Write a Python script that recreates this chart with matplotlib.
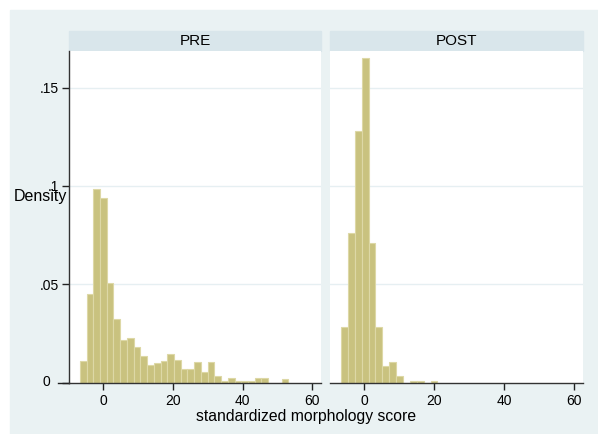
import numpy as np
import matplotlib.pyplot as plt
from matplotlib.patches import Rectangle

plt.rcParams['font.family'] = ['Liberation Sans', 'DejaVu Sans']

# histogram densities
pre_start = -6.70
pre_width = 1.930
pre_density = [0.0109, 0.0451, 0.0986, 0.0939, 0.0505, 0.0325, 0.0214, 0.0224,
               0.0180, 0.0134, 0.0088, 0.0099, 0.0107, 0.0145, 0.0117, 0.0068,
               0.0068, 0.0105, 0.0051, 0.0105, 0.0034, 0.00085, 0.0025, 0.00085,
               0.00085, 0.00085, 0.0025, 0.0025, 0.0, 0.0, 0.0017]

post_start = -6.67
post_width = 1.970
post_density = [0.0283, 0.0761, 0.1280, 0.1653, 0.0710, 0.0283, 0.0083, 0.0103,
                0.0031, 0.0, 0.0010, 0.0010, 0.0, 0.0010]

panels = ['PRE', 'POST']
xticks = [0, 20, 40, 60]
yticks = [0, 0.05, 0.1, 0.15]
yticklabels = ['0', '.05', '.1', '.15']

bg = '#EAF2F3'
strip = '#D9E6EB'
bar_fill = '#C9C27F'
bar_edge = '#DDD8A6'

fig = plt.figure(figsize=(5.98, 4.34), dpi=100)
W, H = 598.0, 434.0
fig.add_artist(Rectangle((10 / W, 0), 1 - 10 / W, 1 - 10 / H,
                         transform=fig.transFigure, color=bg, zorder=-5))

lefts = [69, 330]
widths = [252, 253]
top, bottom = 50.7, 382.5
data = [(pre_start, pre_width, pre_density), (post_start, post_width, post_density)]

for i, name in enumerate(panels):
    ax = fig.add_axes([lefts[i] / W, (H - bottom) / H, widths[i] / W, (bottom - top) / H])
    ax.set_facecolor('white')
    start, w, dens = data[i]
    edges = start + w * np.arange(len(dens))
    ax.bar(edges, dens, width=w, align='edge', color=bar_fill,
           edgecolor=bar_edge, linewidth=0.8, zorder=2)
    ax.set_xlim(-9.8, 62.5)
    ax.set_ylim(0, 0.1688)
    ax.set_xticks(xticks)
    ax.set_xticklabels([str(t) for t in xticks], fontsize=10)
    ax.set_yticks(yticks)
    for y in yticks[1:]:
        ax.axhline(y, color='#E6EFF2', lw=1, zorder=1)
    ax.tick_params(axis='x', direction='out', length=5, width=1, color='#222222', pad=3)
    for s in ['top', 'right']:
        ax.spines[s].set_visible(False)
    ax.spines['bottom'].set_color('#333333')
    ax.spines['bottom'].set_linewidth(1)
    ax.spines['bottom'].set_zorder(3)
    if i == 0:
        # zero label sits further out than the others in the original
        ax.set_yticklabels([''] + yticklabels[1:], fontsize=10)
        ax.text(-0.075, yticks[0], yticklabels[0], transform=ax.get_yaxis_transform(),
                ha='right', va='center', fontsize=10)
        ax.plot([-0.045, 0], [0, 0], transform=ax.get_yaxis_transform(),
                color='#222222', lw=1, clip_on=False)
        ax.tick_params(axis='y', direction='out', length=5, width=1, color='#222222', pad=2)
        ax.spines['left'].set_color('#333333')
        ax.spines['left'].set_linewidth(1)
    else:
        ax.set_yticklabels([])
        ax.tick_params(axis='y', length=0)
        ax.spines['left'].set_visible(False)
    # strip header
    fig.add_artist(Rectangle((lefts[i] / W, (H - top) / H), widths[i] / W, 20 / H,
                             transform=fig.transFigure, color=strip, zorder=-4))
    fig.text((lefts[i] + widths[i] / 2) / W, (H - 41) / H, name, ha='center', va='center',
             fontsize=11)

fig.text(14 / W, (H - 196) / H, 'Density', ha='left', va='center', fontsize=11.5)
fig.text(306 / W, (H - 416) / H, 'standardized morphology score', ha='center',
         va='center', fontsize=11.3)

fig.savefig('out.png', dpi=100)
